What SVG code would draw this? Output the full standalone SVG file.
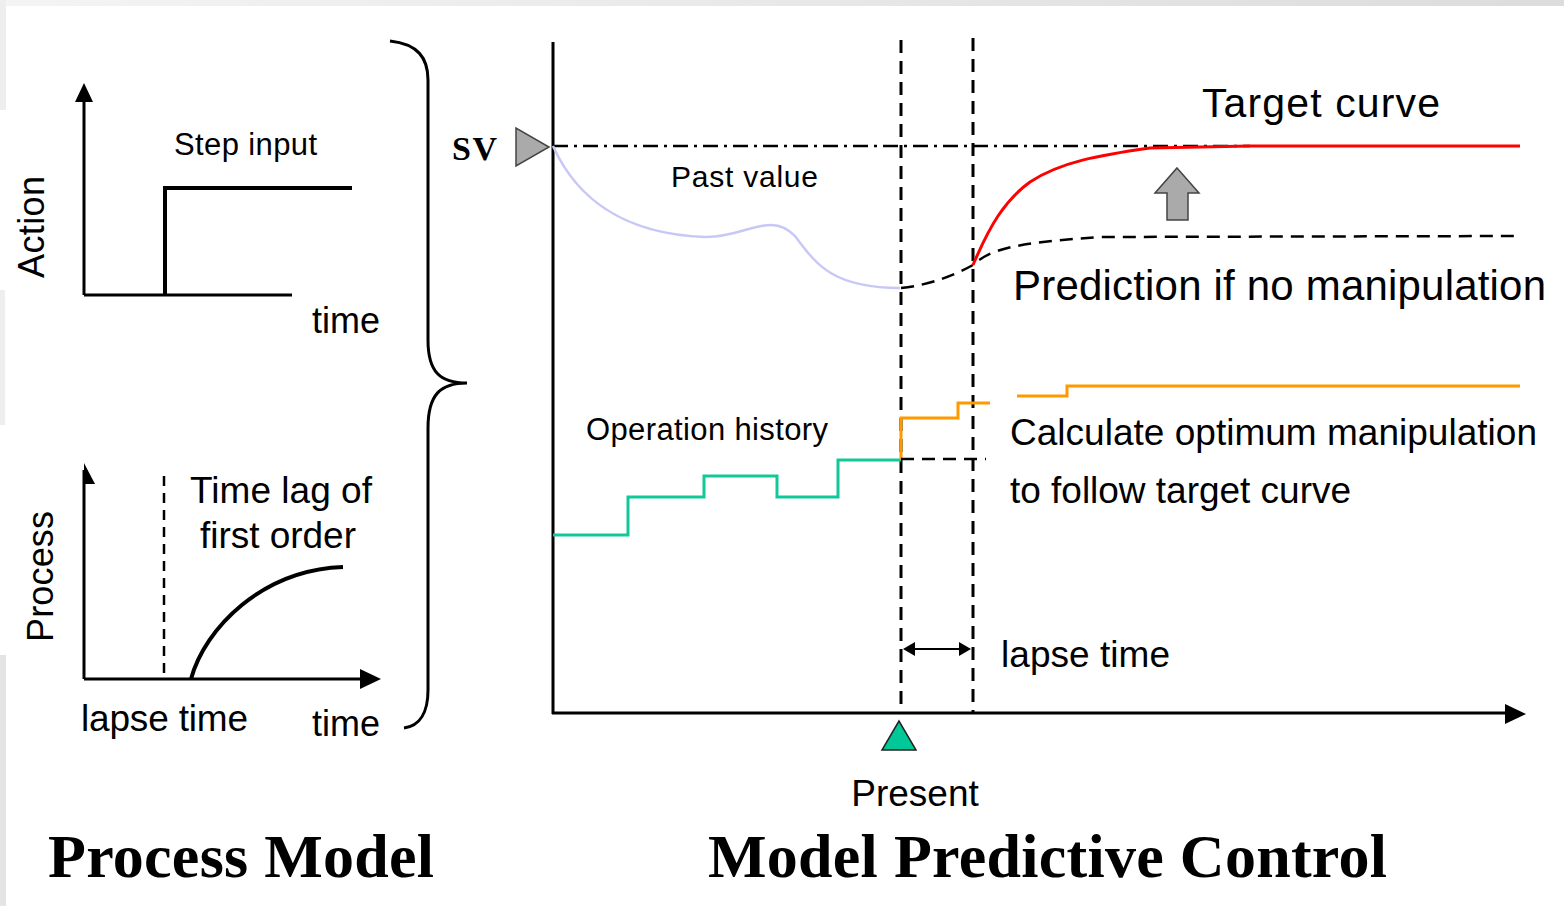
<svg xmlns="http://www.w3.org/2000/svg" width="1564" height="906" viewBox="0 0 1564 906">
<style>
.t{font-family:"Liberation Sans",Arial,sans-serif;fill:#000}
.ti{font-family:"Liberation Serif","Times New Roman",serif;font-weight:bold;fill:#000}
.ax{stroke:#000;stroke-width:3;fill:none}
.vd{stroke:#000;stroke-width:3;stroke-dasharray:13,8;fill:none}
</style>
<defs>
<linearGradient id="bg" x1="0" y1="0" x2="1" y2="0">
<stop offset="0" stop-color="#f4f4f4"/><stop offset="1" stop-color="#dcdcdc"/>
</linearGradient>
</defs>
<rect width="1564" height="906" fill="#fff"/>
<rect x="0" y="0" width="1564" height="6" fill="url(#bg)"/>
<rect x="0" y="0" width="6" height="110" fill="#eeeeee"/>
<rect x="0" y="290" width="5" height="135" fill="#eeeeee"/>
<rect x="0" y="655" width="6" height="251" fill="#e4e4e4"/>

<g id="action-chart">
<line class="ax" x1="84" y1="295" x2="84" y2="98"/>
<polygon points="84,83 75,102 93,102" fill="#000"/>
<line class="ax" x1="84" y1="295" x2="292" y2="295"/>
<polyline points="165,295 165,188 352,188" fill="none" stroke="#000" stroke-width="4"/>
<text class="t" x="174" y="155" font-size="31" textLength="143">Step input</text>
<text class="t" x="312" y="333" font-size="36">time</text>
<text class="t" transform="translate(44,278) rotate(-90)" font-size="36" textLength="102">Action</text>
</g>

<g id="process-chart">
<line class="ax" x1="84" y1="679" x2="84" y2="470"/>
<polygon points="84,463 95,484 84,484" fill="#000"/>
<line class="ax" x1="84" y1="679" x2="365" y2="679"/>
<polygon points="381,679 360,669 360,689" fill="#000"/>
<line x1="164" y1="476" x2="164" y2="679" stroke="#000" stroke-width="2.5" stroke-dasharray="10,7"/>
<path d="M191,679 C205,628 262,570 343,567" fill="none" stroke="#000" stroke-width="4"/>
<text class="t" x="190" y="503" font-size="37" textLength="182">Time lag of</text>
<text class="t" x="200" y="548" font-size="37" textLength="156">first order</text>
<text class="t" x="81" y="731" font-size="37" textLength="167">lapse time</text>
<text class="t" x="312" y="736" font-size="36">time</text>
<text class="t" transform="translate(53,642) rotate(-90)" font-size="36" textLength="131">Process</text>
</g>

<g id="brace">
<path d="M390,41 C418,44 428,58 428,80 L428,340 C428,372 440,383 467,383 C440,383 428,395 428,428 L428,690 C428,712 420,726 404,728" fill="none" stroke="#000" stroke-width="3"/>
</g>

<g id="titles">
<text class="ti" x="48" y="877" font-size="62" textLength="386">Process Model</text>
<text class="ti" x="708" y="877" font-size="62" textLength="679">Model Predictive Control</text>
</g>

<g id="mpc-axes">
<line class="ax" x1="553" y1="42" x2="553" y2="714"/>
<line class="ax" x1="552" y1="713" x2="1508" y2="713"/>
<polygon points="1526,714 1505,704 1505,724" fill="#000"/>
</g>

<g id="sv">
<text class="ti" x="452" y="160" font-size="34" textLength="45">SV</text>
<polygon points="516,128 516,166 549,147" fill="#aaaaaa" stroke="#444" stroke-width="1.5"/>
</g>

<g id="connectors">
<line x1="553" y1="146" x2="1250" y2="146" stroke="#000" stroke-width="2.5" stroke-dasharray="15,6,3,6"/>
<line class="vd" x1="901" y1="40" x2="901" y2="713"/>
<line class="vd" x1="973" y1="38" x2="973" y2="713"/>
<path d="M553,146 C575,195 620,234 705,237 C745,238 770,210 795,236 C815,262 830,288 900,288" fill="none" stroke="#c8c8f6" stroke-width="2.5"/>
<path d="M901,288 C930,285 955,275 973,265 C990,250 1010,243 1100,237 L1520,236" fill="none" stroke="#000" stroke-width="2.5" stroke-dasharray="13,8"/>
<path d="M973,265 C990,225 1005,200 1030,182 C1060,162 1100,155 1150,148 L1250,146 L1520,146" fill="none" stroke="#ff0000" stroke-width="3"/>
<polyline points="553,535 628,535 628,497 704,497 704,476 777,476 777,497 838,497 838,460 901,460" fill="none" stroke="#10c898" stroke-width="3"/>
<polyline points="901,460 901,418 958,418 958,403 990,403" fill="none" stroke="#ff9900" stroke-width="3"/>
<polyline points="1017,396 1067,396 1067,386 1520,386" fill="none" stroke="#ff9900" stroke-width="3"/>
<line x1="901" y1="459" x2="986" y2="459" stroke="#000" stroke-width="2.5" stroke-dasharray="13,8"/>
<line x1="912" y1="649" x2="962" y2="649" stroke="#000" stroke-width="2"/>
<polygon points="903,649 915,642 915,656" fill="#000"/>
<polygon points="971,649 959,642 959,656" fill="#000"/>
</g>

<g id="up-arrow">
<polygon points="1177,168 1199,193 1188,193 1188,220 1167,220 1167,193 1155,193" fill="#aaaaaa" stroke="#444" stroke-width="1.5"/>
</g>

<g id="present">
<polygon points="899,721 882,750 916,750" fill="#00c896" stroke="#222" stroke-width="1.5"/>
<text class="t" x="915" y="806" font-size="37" text-anchor="middle">Present</text>
</g>

<g id="labels">
<text class="t" x="1202" y="117" font-size="41" textLength="238">Target curve</text>
<text class="t" x="671" y="187" font-size="30" textLength="147">Past value</text>
<text class="t" x="1013" y="300" font-size="42" textLength="533">Prediction if no manipulation</text>
<text class="t" x="586" y="440" font-size="31" textLength="242">Operation history</text>
<text class="t" x="1010" y="445" font-size="37" textLength="527">Calculate optimum manipulation</text>
<text class="t" x="1010" y="503" font-size="37" textLength="341">to follow target curve</text>
<text class="t" x="1001" y="667" font-size="37" textLength="169">lapse time</text>
</g>
</svg>
